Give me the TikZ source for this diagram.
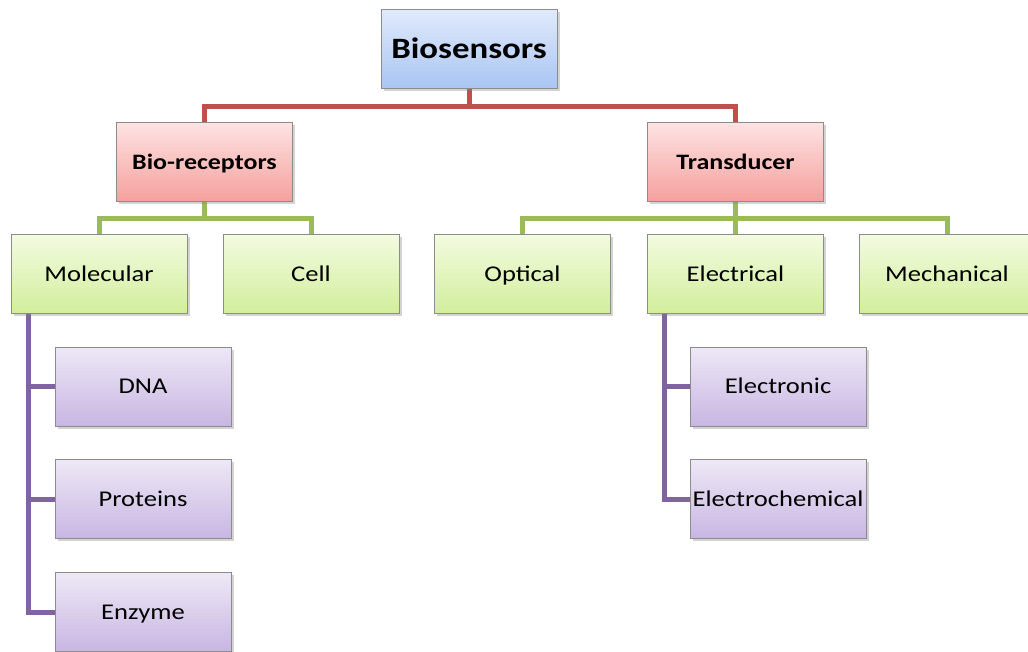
\documentclass[tikz,border=0pt]{standalone}
\usepackage{fontspec}
\setmainfont{Carlito}[FakeStretch=1.18]
\usetikzlibrary{shadows,backgrounds,calc}
\definecolor{bordergray}{HTML}{8C8C8C}
\definecolor{bluetop}{HTML}{E0EAFB}\definecolor{bluebot}{HTML}{A9C5F2}
\definecolor{redtop}{HTML}{FDE3E2}\definecolor{redbot}{HTML}{F4A09D}
\definecolor{greentop}{HTML}{F3FBE0}\definecolor{greenbot}{HTML}{D2EE9C}
\definecolor{purptop}{HTML}{EEE8F6}\definecolor{purpbot}{HTML}{C8B6E2}
\definecolor{redline}{HTML}{C0504D}
\definecolor{greenline}{HTML}{9BBB59}
\definecolor{purpline}{HTML}{8064A2}
\tikzset{
  box/.style={draw=bordergray, line width=1pt, minimum width=176pt, minimum height=79pt,
    inner sep=0pt, text depth=0pt,
    drop shadow={shadow xshift=2.5pt, shadow yshift=-2.5pt, opacity=0.35}},
  bluebox/.style={box, top color=bluetop, bottom color=bluebot, text height=19pt,
    font=\fontsize{29.5}{32}\selectfont\bfseries},
  redbox/.style={box, top color=redtop, bottom color=redbot, text height=14.2pt,
    font=\fontsize{22}{26}\selectfont\bfseries},
  greenbox/.style={box, top color=greentop, bottom color=greenbot, text height=14.5pt,
    font=\fontsize{22.5}{26}\selectfont},
  purpbox/.style={box, top color=purptop, bottom color=purpbot, text height=14.5pt,
    font=\fontsize{22.5}{26}\selectfont},
  rline/.style={draw=redline, line width=5pt},
  gline/.style={draw=greenline, line width=5pt},
  pline/.style={draw=purpline, line width=5pt},
}
\begin{document}
\begin{tikzpicture}[x=1pt,y=-1pt]
\useasboundingbox (0,0) rectangle (1028,652);
\node[bluebox] (bio) at (469,49) {Biosensors};
\node[redbox] (rec) at (204.5,162) {Bio-receptors};
\node[redbox] (tra) at (735.5,162) {Transducer};
\node[greenbox] (mol) at (99,274) {Molecular};
\node[greenbox] (cell) at (311,274) {Cell};
\node[greenbox] (opt) at (522.5,274) {Optical};
\node[greenbox] (ele) at (735.5,274) {Electrical};
\node[greenbox] (mec) at (947,274) {Mechanical};
\node[purpbox] (dna) at (143,386.5) {DNA};
\node[purpbox] (pro) at (143,499) {Proteins};
\node[purpbox] (enz) at (143,612) {Enzyme};
\node[purpbox] (eln) at (778,386.5) {Electronic};
\node[purpbox] (elc) at (778,499) {Electrochemical};
\begin{scope}[on background layer]
\draw[rline] (bio.south) -- ++(0,17.5) -| (rec.north);
\draw[rline] (bio.south) -- ++(0,17.5) -| (tra.north);
\draw[gline] (rec.south) -- ++(0,16.5) -| (mol.north);
\draw[gline] (rec.south) -- ++(0,16.5) -| (cell.north);
\draw[gline] (tra.south) -- ++(0,16.5) -| (opt.north);
\draw[gline] (tra.south) -- ++(0,16.5) -| (ele.north);
\draw[gline] (tra.south) -- ++(0,16.5) -| (mec.north);
\draw[pline] ([xshift=18pt]mol.south west) |- (dna.west);
\draw[pline] ([xshift=18pt]mol.south west) |- (pro.west);
\draw[pline] ([xshift=18pt]mol.south west) |- (enz.west);
\draw[pline] ([xshift=17pt]ele.south west) |- (eln.west);
\draw[pline] ([xshift=17pt]ele.south west) |- (elc.west);
\end{scope}
\end{tikzpicture}
\end{document}
